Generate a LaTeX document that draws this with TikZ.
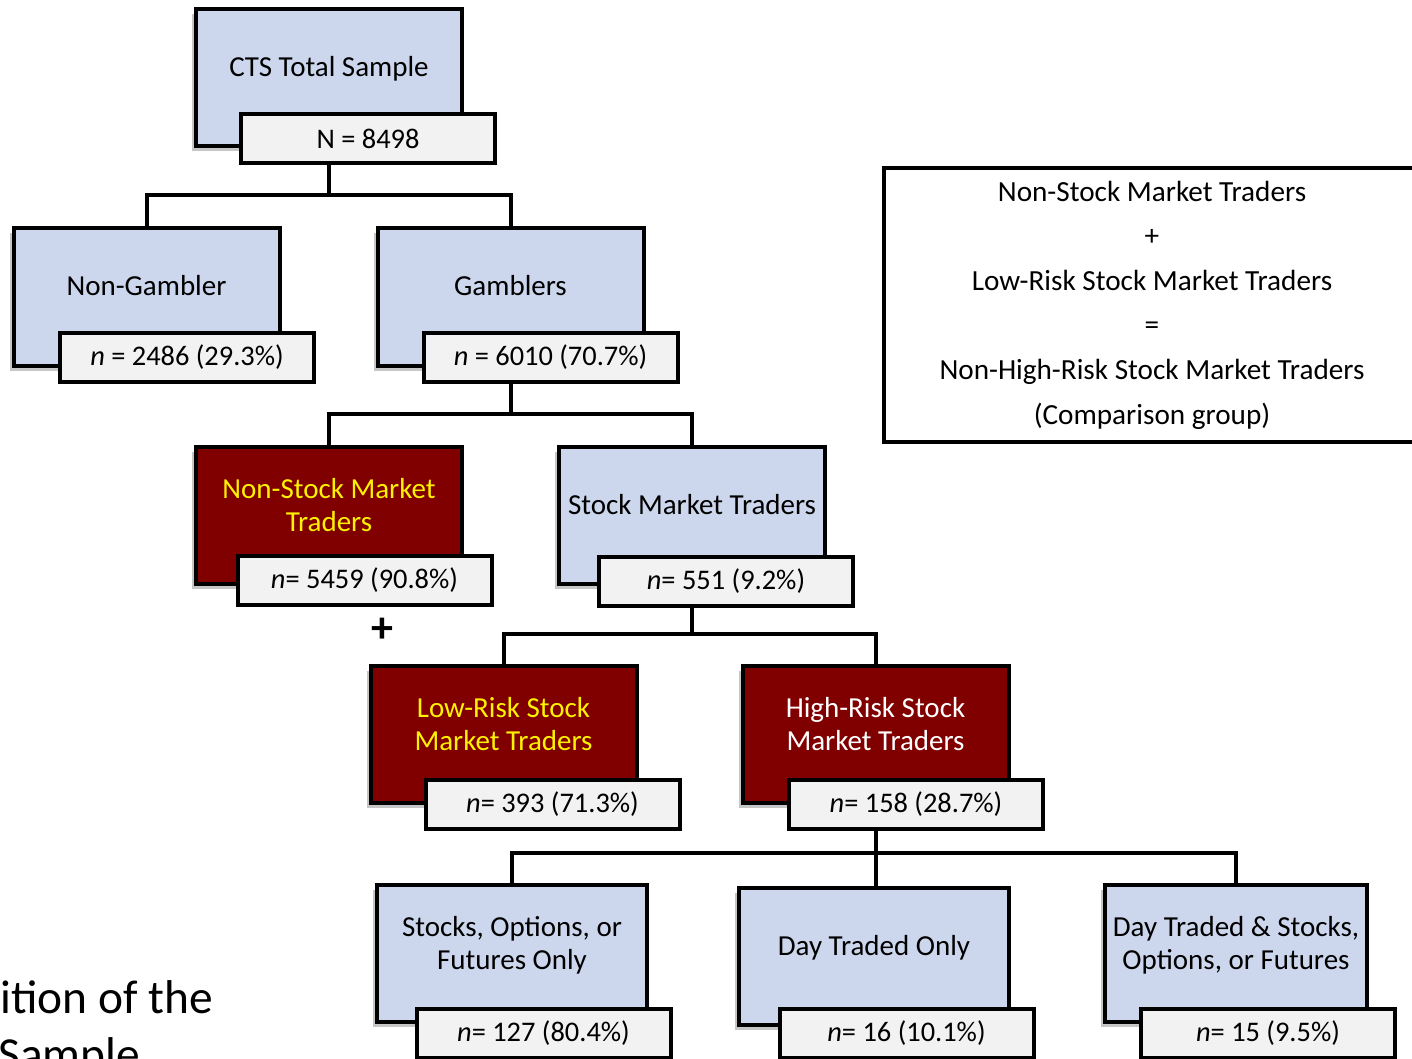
\documentclass[tikz,border=0pt]{standalone}
\usepackage{fontspec}
\setmainfont{Carlito}
\usetikzlibrary{shadows}
\definecolor{boxblue}{RGB}{204,214,236}
\definecolor{boxred}{RGB}{128,0,0}
\definecolor{cntgray}{RGB}{242,242,242}
\tikzset{%
  grp/.style={draw,line width=2pt,fill=boxblue,minimum width=133pt,
    minimum height=68.5pt,inner sep=0pt,
    drop shadow={shadow xshift=-2pt,shadow yshift=-2.5pt,opacity=.45}},
  risk/.style={grp,fill=boxred},
  cnt/.style={draw,line width=2pt,fill=cntgray,minimum width=127pt,
    minimum height=24.5pt,inner sep=0pt,font=\fontsize{14.2}{17}\selectfont},
  lbl/.style={anchor=base,align=center,inner sep=0pt,
    font=\fontsize{14.5}{16.5}\selectfont},
  link/.style={line width=2pt},
}
% #1 text style, #2 name, #3 box style, #4 box centre,
% #5 text base (last line), #6 text, #7 count centre, #8 count
\newcommand{\Group}[8][]{%
  \node[#3] (#2) at #4 {};
  \node[lbl,#1] (#2T) at #5 {#6};
  \node[cnt] (#2N) at #7 {#8};
}
\begin{document}
\begin{tikzpicture}[x=0.5pt,y=-0.5pt]
  \useasboundingbox (0,0) rectangle (1412,1059);
  \clip (0,0) rectangle (1412,1059);
  % groups
  \Group{cts}{grp}{(329,77.5)}{(329,77)}{CTS Total Sample}{(368,138.5)}{N = 8498}
  \Group{nong}{grp}{(146.5,297)}{(146.5,295)}{Non-Gambler}{(187,357.5)}{\textit{n} = 2486 (29.3\%)}
  \Group{gamb}{grp}{(510.5,297)}{(510.5,295)}{Gamblers}{(550.5,357.5)}{\textit{n} = 6010 (70.7\%)}
  \Group[text=yellow]{nsmt}{risk}{(329,515)}{(329,531)}{Non-Stock Market\\Traders}{(364.5,580.5)}{\textit{n}= 5459 (90.8\%)}
  \Group{smt}{grp}{(692,515)}{(692,514)}{Stock Market Traders}{(726,581.5)}{\textit{n}= 551 (9.2\%)}
  \Group[text=yellow]{lrsk}{risk}{(503.5,734.5)}{(503.5,750)}{Low-Risk Stock\\Market Traders}{(552.5,804.5)}{\textit{n}= 393 (71.3\%)}
  \Group[text=white]{hrsk}{risk}{(875.5,734.5)}{(875.5,750)}{High-Risk Stock\\Market Traders}{(916,804.5)}{\textit{n}= 158 (28.7\%)}
  \Group{soft}{grp,minimum width=135pt}{(512,953.5)}{(512,969)}{Stocks, Options, or\\Futures Only}{(543.5,1033.5)}{\textit{n}= 127 (80.4\%)}
  \Group{dto}{grp,minimum width=135pt}{(874,956)}{(874,955)}{Day Traded Only}{(906.5,1033.5)}{\textit{n}= 16 (10.1\%)}
  \Group{dts}{grp,minimum width=131pt}{(1236,953.5)}{(1236,969)}{Day Traded \& Stocks,\\Options, or Futures}{(1268,1033.5)}{\textit{n}= 15 (9.5\%)}
  % split points
  \coordinate (s0) at (329,195);
  \coordinate (s1) at (510.5,414);
  \coordinate (s2) at (692,634);
  \coordinate (s3) at (875.5,853);
  \draw[link] (ctsN.south -| cts) -- (s0) -| (nong.north);
  \draw[link] (s0) -| (gamb.north);
  \draw[link] (gambN.south -| gamb) -- (s1) -| (nsmt.north);
  \draw[link] (s1) -| (smt.north);
  \draw[link] (smtN.south -| smt) -- (s2) -| (lrsk.north);
  \draw[link] (s2) -| (hrsk.north);
  \draw[link] (hrskN.south -| hrsk) -- (s3) -| (soft.north);
  \draw[link] (s3) -- (s3 |- dto.north);
  \draw[link] (s3) -| (dts.north);
  \node[font=\fontsize{22}{24}\selectfont\bfseries] (plus) at (382,630) {+};
  % comparison group
  \node[draw,line width=2pt,minimum width=268pt,minimum height=137pt,align=center,
    font=\fontsize{14.6}{22.3}\selectfont] (cmp) at (1152,305)
    {Non-Stock Market Traders\\+\\Low-Risk Stock Market Traders\\=\\Non-High-Risk Stock Market Traders\\(Comparison group)};
  \node[anchor=base west,inner sep=0pt,font=\fontsize{23.7}{28.5}\selectfont] (cap1) at (0,1013) {ition of the};
  \node[anchor=base west,inner sep=0pt,font=\fontsize{23.7}{28.5}\selectfont] (cap2) at (-2,1070) {Sample};
\end{tikzpicture}
\end{document}
